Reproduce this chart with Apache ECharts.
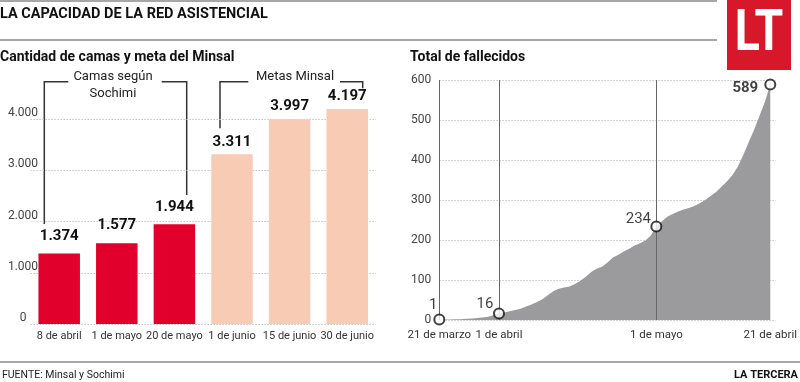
<!DOCTYPE html>
<html>
<head>
<meta charset="utf-8">
<script src="https://cdn.jsdelivr.net/npm/echarts@6/dist/echarts.min.js"></script>
<style>
html,body{margin:0;padding:0;background:#fff;}
#chart{width:800px;height:382px;}
</style>
</head>
<body>
<div id="chart"></div>
<script>
// ---- Data ----
var bedCategories = ['8 de abril', '1 de mayo', '20 de mayo', '1 de junio', '15 de junio', '30 de junio'];
var sochimiBeds = [1374, 1577, 1944];          // Camas según Sochimi
var minsalGoals = [3311, 3997, 4197];          // Metas Minsal
var bedTicks = [0, 1000, 2000, 3000, 4000];

var deathDays = [0,1,2,3,4,5,6,7,8,9,10,11,12,13,14,15,16,17,18,19,20,21,22,23,24,25,26,27,28,29,30,
  31,32,33,34,35,36,37,38,39,40,41,42,43,44,45,46,47,48,49,50,51,52,53,54,55,56,57,58,59,60,61];
var deaths = [1,1,1,2,2,3,4,5,6,8,12,16,19,22,25,28,34,39,45,52,62,72,78,81,84,90,98,108,120,128,133,
  144,156,163,171,178,186,192,199,212,234,246,258,265,271,276,280,285,292,300,310,320,333,346,362,383,412,444,475,510,545,589];
var keyDays = [0, 11, 40, 61];
var keyDeaths = [1, 16, 234, 589];
var dayLabels = {0: '21 de marzo', 11: '1 de abril', 40: '1 de mayo', 61: '21 de abril'};
var deathTicks = [0, 100, 200, 300, 400, 500, 600];

// ---- Build ----
var FONT = 'Roboto, "Noto Sans", sans-serif';
function fmtThousands(v){ return String(v).replace(/\B(?=(\d{3})+(?!\d))/g, '.'); }
var sochimiData = bedCategories.map(function(c,i){ return i < sochimiBeds.length ? sochimiBeds[i] : null; });
var minsalData = bedCategories.map(function(c,i){ var j = i - sochimiBeds.length; return j >= 0 ? minsalGoals[j] : null; });
var areaData = deathDays.map(function(d,i){ return [d, deaths[i]]; });
var keyLabelStyle = [
  {offset:[-6,-14], fontWeight:'normal'},
  {offset:[-14,-9], fontWeight:'normal'},
  {offset:[-18,-7], fontWeight:'normal'},
  {offset:[-25,4], fontWeight:'bold'}
];
var keyData = keyDays.map(function(d,i){
  return {value:[d, keyDeaths[i]], label:{offset:keyLabelStyle[i].offset, fontWeight:keyLabelStyle[i].fontWeight}};
});

var gridLine = {show:true, lineStyle:{color:'#c4c4c4', type:[1.5,1.5], width:1}};
var darkLine = '#333';

var chart = echarts.init(document.getElementById('chart'), null, {renderer:'canvas'});
chart.setOption({
  animation:false,
  textStyle:{fontFamily:FONT},
  grid:[
    {left:30.4, top:119, width:345.6, height:205},
    {left:439.3, top:80, width:336.7, height:240}
  ],
  xAxis:[
    {gridIndex:0, type:'category', data:bedCategories,
     axisLine:{show:false}, axisTick:{show:false},
     axisLabel:{interval:0, fontSize:11, color:'#333', margin:7, fontFamily:FONT}},
    {gridIndex:1, type:'value', min:0, max:62,
     axisLine:{show:false}, axisTick:{show:false}, splitLine:{show:false},
     axisLabel:{customValues:keyDays, fontSize:11.5, color:'#333', margin:9, fontFamily:FONT,
       formatter:function(v){ return dayLabels[v] || ''; }}}
  ],
  yAxis:[
    {gridIndex:0, type:'value', min:bedTicks[0], max:bedTicks[bedTicks.length-1], interval:1000,
     axisLine:{show:false}, axisTick:{show:false}, splitLine:gridLine,
     axisLabel:{fontSize:12, color:'#444', margin:7.4, verticalAlign:'bottom', align:'center',
       backgroundColor:'#fff', padding:[0,2,0,2], fontFamily:FONT,
       formatter:function(v){ return fmtThousands(v); }}},
    {gridIndex:1, type:'value', min:deathTicks[0], max:deathTicks[deathTicks.length-1], interval:100,
     axisLine:{show:false}, axisTick:{show:false}, splitLine:gridLine,
     axisLabel:{fontSize:12, color:'#444', margin:8, fontFamily:FONT}}
  ],
  series:[
    {type:'bar', xAxisIndex:0, yAxisIndex:0, data:sochimiData, barWidth:41.5, barGap:'-100%', clip:false,
     itemStyle:{color:'#e1002b'},
     label:{show:true, position:'top', distance:10, fontSize:15, fontWeight:'bold', color:'#111', fontFamily:FONT,
       formatter:function(p){ return fmtThousands(p.value); }}},
    {type:'bar', xAxisIndex:0, yAxisIndex:0, data:minsalData, barWidth:41.5, barGap:'-100%', clip:false,
     itemStyle:{color:'#f8cbb5'},
     label:{show:true, position:'top', distance:5, fontSize:15, fontWeight:'bold', color:'#111', fontFamily:FONT,
       formatter:function(p){ return fmtThousands(p.value); }}},
    {type:'line', xAxisIndex:1, yAxisIndex:1, data:areaData, showSymbol:false, symbol:'none',
     lineStyle:{width:0}, areaStyle:{color:'#9b9b9d', opacity:1}, z:2,
     markLine:{silent:true, symbol:'none', label:{show:false},
       lineStyle:{color:'#666', width:1, type:'solid'},
       data:[{xAxis:keyDays[0]},{xAxis:keyDays[1]},{xAxis:keyDays[2]}]}},
    {type:'scatter', xAxisIndex:1, yAxisIndex:1, data:keyData, symbol:'circle', symbolSize:10, z:5,
     itemStyle:{color:'#fff', borderColor:'#111', borderWidth:2},
     label:{show:true, position:'inside', align:'center', verticalAlign:'middle', fontSize:15, color:'#111', fontFamily:FONT,
       formatter:function(p){ return String(p.value[1]); }}}
  ],
  graphic:[
    {type:'line', shape:{x1:0,y1:1,x2:717,y2:1}, style:{stroke:'#8a8a8a', lineWidth:1.5}},
    {type:'line', shape:{x1:0,y1:40,x2:717,y2:40}, style:{stroke:'#8a8a8a', lineWidth:1.5}},
    {type:'text', left:0, top:7, style:{text:'LA CAPACIDAD DE LA RED ASISTENCIAL', font:'bold 14.5px '+FONT, fill:'#111'}},
    {type:'rect', shape:{x:727, y:0, width:64, height:70}, style:{fill:'#d7182a'}, z:10},
    {type:'text', x:759, y:35, scaleX:0.8, scaleY:1, z:11,
     style:{text:'LT', font:'bold 58px '+FONT, fill:'#fff', align:'center', verticalAlign:'middle'}},
    {type:'text', x:0, y:57, style:{text:'Cantidad de camas y meta del Minsal', font:'bold 14px '+FONT, fill:'#111', verticalAlign:'middle'}},
    {type:'text', x:410, y:57, style:{text:'Total de fallecidos', font:'bold 14px '+FONT, fill:'#111', verticalAlign:'middle'}},
    // annotation brackets
    {type:'polyline', shape:{points:[[44.3,224],[44.3,81.7],[68.3,81.7]]}, style:{stroke:darkLine, lineWidth:1.5, fill:null}},
    {type:'polyline', shape:{points:[[161.7,81.7],[186.7,81.7],[186.7,195]]}, style:{stroke:darkLine, lineWidth:1.5, fill:null}},
    {type:'text', x:113, y:77, style:{text:'Camas según', font:'13px '+FONT, fill:'#222', align:'center', verticalAlign:'middle'}},
    {type:'text', x:113, y:94, style:{text:'Sochimi', font:'13px '+FONT, fill:'#222', align:'center', verticalAlign:'middle'}},
    {type:'polyline', shape:{points:[[220,128.3],[220,81.7],[248.3,81.7]]}, style:{stroke:darkLine, lineWidth:1.5, fill:null}},
    {type:'polyline', shape:{points:[[340,81.7],[362.7,81.7],[362.7,88.3]]}, style:{stroke:darkLine, lineWidth:1.5, fill:null}},
    {type:'text', x:295, y:77, style:{text:'Metas Minsal', font:'13px '+FONT, fill:'#222', align:'center', verticalAlign:'middle'}},
    // footer
    {type:'line', shape:{x1:0,y1:362,x2:800,y2:362}, style:{stroke:'#8a8a8a', lineWidth:1.5}},
    {type:'text', x:2, y:375, style:{text:'FUENTE: Minsal y Sochimi', font:'10.5px '+FONT, fill:'#222', verticalAlign:'middle'}},
    {type:'text', x:798, y:375, style:{text:'LA TERCERA', font:'bold 11px '+FONT, fill:'#111', align:'right', verticalAlign:'middle'}}
  ]
});
</script>
</body>
</html>
